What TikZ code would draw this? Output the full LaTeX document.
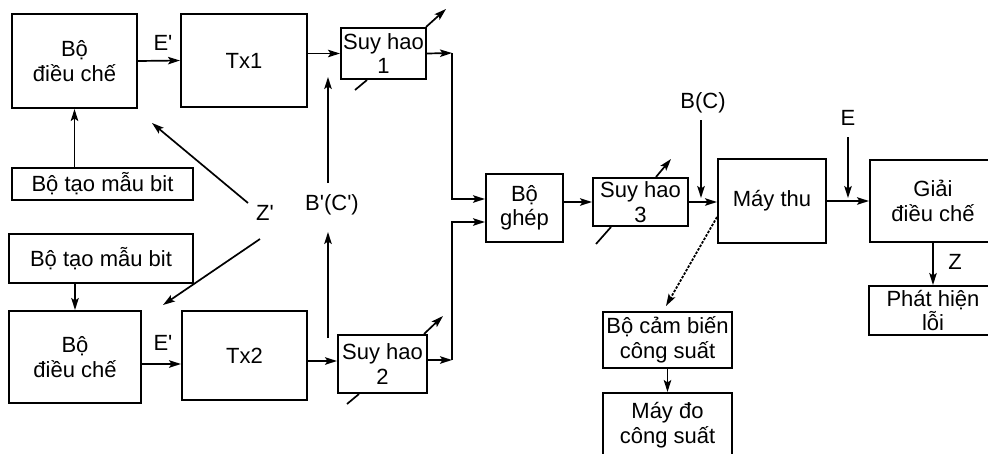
\documentclass[tikz,border=0pt]{standalone}
\usepackage{fontspec}
\newfontfamily\labfont{Liberation Sans}
\usetikzlibrary{arrows.meta,calc}

\begin{document}
\begin{tikzpicture}[x=1pt,y=-1pt,
  txt/.style={font=\labfont\fontsize{22}{24.5}\selectfont, inner sep=0pt},
  blk/.style={txt, draw, line width=2pt, align=center, minimum width=#1},
  arr/.style={line width=1.7pt, -{Stealth[length=12pt,width=7.5pt,inset=2.5pt]}},
  tick/.style={line width=1.7pt},
  dots/.style={line width=1.8pt, dash pattern=on 2.5pt off 1.5pt, -{Stealth[length=12pt,width=7.5pt,inset=2.5pt]}}
]
\clip (0,0) rectangle (988,453);
\fill[white] (0,0) rectangle (988,453);

% transmitter branch 1
\node[blk=125, minimum height=94] (mod1) at (74.5,61) {Bộ\\điều chế};
\node[blk=126, minimum height=93] (tx1) at (244,60.5) {Tx1};
\node[blk=181, minimum height=32] (gen1) at (102.5,184) {Bộ tạo mẫu bit};
\node[blk=85, minimum height=51] (sh1) at (383.5,53.5) {Suy hao\\1};

% transmitter branch 2
\node[blk=184, minimum height=49] (gen2) at (101,258.5) {Bộ tạo mẫu bit};
\node[blk=132, minimum height=92] (mod2) at (75,357) {Bộ\\điều chế};
\node[blk=125, minimum height=89] (tx2) at (244.5,355.5) {Tx2};
\node[blk=89, minimum height=58] (sh2) at (382.5,364) {Suy hao\\2};

% combining and receiving chain
\node[blk=77, minimum height=68] (ghep) at (524.5,208) {Bộ\\ghép};
\node[blk=95, minimum height=48] (sh3) at (640.5,202) {Suy hao\\3};
\node[blk=108, minimum height=84] (thu) at (772,201) {Máy thu};
\node[blk=126, minimum height=82] (giai) at (933,201) {Giải\\điều chế};
\node[blk=128, minimum height=49] (phat) at (933,310.5) {Phát hiện\\lỗi};
\node[blk=129, minimum height=56] (cam) at (667.5,340) {Bộ cảm biến\\công suất};
\node[blk=129, minimum height=64] (do) at (667.5,425) {Máy đo\\công suất};

% labels
\node[txt] (e1) at (163,43) {E'};
\node[txt] (e2) at (163,343) {E'};
\node[txt] (zp) at (265,213) {Z'};
\node[txt] (bcp) at (332,205) {B'(C')};
\node[txt] (bc) at (703,103) {B(C)};
\node[txt] (ee) at (848,118) {E};
\node[txt] (zz) at (955,262) {Z};

% free ends of the injected-signal arrows
\coordinate (za) at (248,203);
\coordinate (zb) at (152,123);
\coordinate (zc) at (260,239);
\coordinate (zd) at (163,305);
\coordinate (ba) at (328,183);
\coordinate (bb) at (328,77);
\coordinate (bd) at (328,338);
\coordinate (be) at (328,232);
\coordinate (bca) at (701,120);
\coordinate (bcb) at (701,198);
\coordinate (ea) at (848,137);
\coordinate (eb) at (848,198);
\coordinate (j1) at (452,53);
\coordinate (j2) at (452,360);
\coordinate (da) at (717,217);
\coordinate (db) at (666,306);

% branch 1 connections
\draw[arr] (mod1.east) -- (tx1.west);
\draw[arr] (gen1.north -| mod1.south) -- (mod1.south);
\draw[arr] (tx1.east |- sh1.west) -- (sh1.west);
\draw[arr] (sh1.east) -- (j1);
\draw[arr] (j1) |- ([yshift=9pt]ghep.west);

% branch 2 connections
\draw[arr] (gen2.south -| mod2.north) -- (mod2.north);
\draw[arr] ([yshift=-7pt]mod2.east) -- ([yshift=-7pt]mod2.east -| tx2.west);
\draw[arr] ([yshift=3pt]sh2.west -| tx2.east) -- ([yshift=3pt]sh2.west);
\draw[arr] ([yshift=4pt]sh2.east) -- (j2);
\draw[arr] (j2) |- ([yshift=-14pt]ghep.west);

% injected signals
\draw[arr] (za) -- (zb);
\draw[arr] (zc) -- (zd);
\draw[arr] (ba) -- (bb);
\draw[arr] (bd) -- (be);
\draw[arr] (bca) -- (bcb);
\draw[arr] (ea) -- (eb);

% receiving chain connections
\draw[arr] (ghep.east |- sh3.west) -- (sh3.west);
\draw[arr] (sh3.east) -- (sh3.east -| thu.west);
\draw[arr] (thu.east) -- (giai.west);
\draw[arr] (giai.south) -- (phat.north);
\draw[dots] (da) -- (db);
\draw[arr] (cam.south) -- (do.north);

% variable-attenuator slashes
\draw[tick] ($(sh1.south west)+(15,10)$) -- ($(sh1.south west)+(27,0)$);
\draw[arr] ($(sh1.north east)+(-1,0)$) -- ($(sh1.north east)+(19,-18)$);
\draw[tick] ($(sh2.south west)+(10,10)$) -- ($(sh2.south west)+(22,0)$);
\draw[arr] ($(sh2.north east)+(-4,0)$) -- ($(sh2.north east)+(15,-18)$);
\draw[tick] ($(sh3.south west)+(4,17)$) -- ($(sh3.south west)+(19,0)$);
\draw[arr] ($(sh3.north east)+(-33,0)$) -- ($(sh3.north east)+(-18,-18)$);
\end{tikzpicture}
\end{document}
